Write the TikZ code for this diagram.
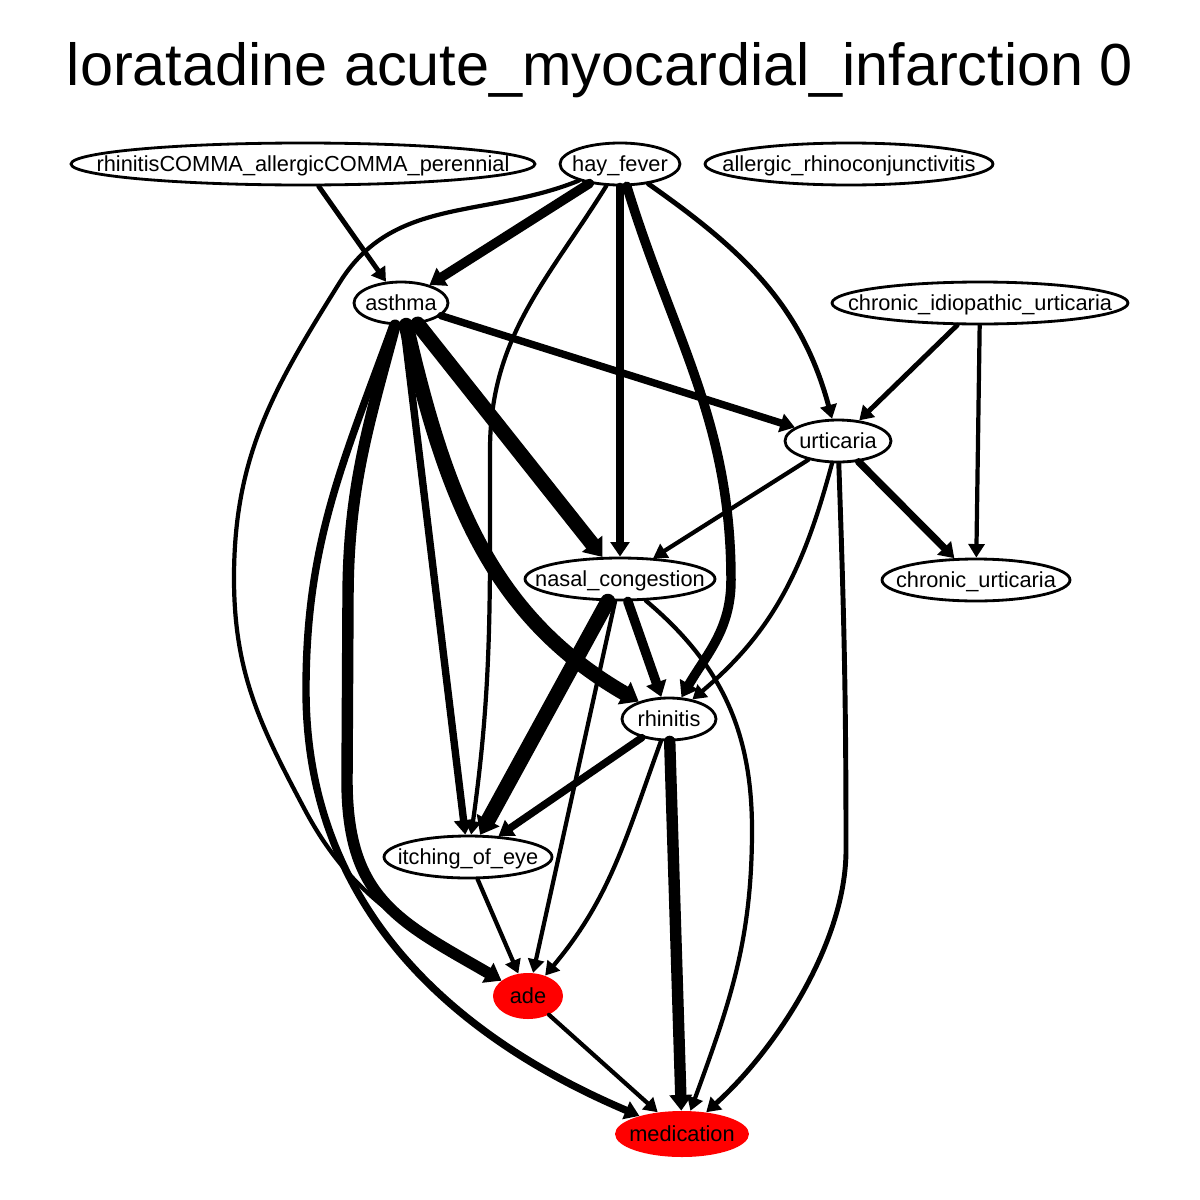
\documentclass[tikz,border=0pt]{standalone}
\usepackage{fontspec}
\setmainfont{Liberation Sans}
\usetikzlibrary{positioning, shapes.geometric, arrows.meta}
\tikzstyle{var}=[ellipse, draw=black, line width=1.6pt, inner xsep=-5cm, inner ysep=0pt, minimum height=0.84cm, text height=9.5pt, text depth=1pt, font=\fontsize{12.4}{14}\selectfont]
\tikzstyle{outc}=[ellipse, fill=red, inner xsep=-5cm, inner ysep=0pt, minimum height=0.92cm, text height=9.5pt, text depth=1pt, font=\fontsize{12.4}{14}\selectfont]
\tikzstyle{link}=[-{Triangle[length=7pt 0.3, width=7pt 0.85]}, line cap=round]
\tikzstyle{w1}=[link, line width=2.4pt]
\tikzstyle{w2}=[link, line width=2.8pt]
\tikzstyle{w3}=[link, line width=4.2pt]
\tikzstyle{w4}=[link, line width=5.4pt]
\tikzstyle{w5}=[link, line width=6.5pt]
\tikzstyle{w6}=[link, line width=8.5pt]

\begin{document}
\begin{tikzpicture}[x=0.02cm, y=-0.02cm]
            %causal graph for the drug/outcome pair, weights as line widths
            \useasboundingbox (0,0) rectangle (1200,1200);
            \node[anchor=base, font=\fontsize{33.8}{40}\selectfont](title) at (600,85){loratadine acute\_myocardial\_infarction 0};
            \node[var, minimum width=9.28cm](perennial) at (303,164){rhinitisCOMMA\_allergicCOMMA\_perennial};
            \node[var, minimum width=2.4cm](hayfever) at (620,164){hay\_fever};
            \node[var, minimum width=5.76cm](allergic) at (849,164){allergic\_rhinoconjunctivitis};
            \node[var, minimum width=1.88cm](asthma) at (401,303){asthma};
            \node[var, minimum width=5.92cm](ciu) at (980,303){chronic\_idiopathic\_urticaria};
            \node[var, minimum width=2.12cm](urticaria) at (838,441){urticaria};
            \node[var, minimum width=3.8cm](nasal) at (620,579){nasal\_congestion};
            \node[var, minimum width=3.76cm](churt) at (976,580){chronic\_urticaria};
            \node[var, minimum width=1.88cm](rhinitis) at (669,719){rhinitis};
            \node[var, minimum width=3.36cm](itching) at (468,857){itching\_of\_eye};
            \node[outc, minimum width=1.4cm](ade) at (528,996){ade};
            \node[outc, minimum width=2.68cm](med) at (682,1134){medication};

            \foreach \a/\b/\w in {perennial/asthma/w2, hayfever/asthma/w4, hayfever/nasal/w3,
                asthma/nasal/w6, asthma/urticaria/w3, asthma/itching/w3, ciu/urticaria/w2,
                ciu/churt/w1, urticaria/nasal/w1, urticaria/churt/w3, nasal/itching/w6,
                nasal/rhinitis/w4, nasal/ade/w1, rhinitis/itching/w3, rhinitis/med/w5,
                itching/ade/w1, ade/med/w1}{
                \draw[\w] (\a) -- (\b);
            }

            \draw[w1] (hayfever) to[out=202, in=58] (340,282) to[out=238, in=90] (234,578)
                to[out=270, in=118] (305,810) to[out=298, in=150] (ade);
            \draw[w1] (hayfever) to[out=238, in=90] (490,450) to[out=270, in=82] (itching);
            \draw[w4] (hayfever) to[out=287, in=90] (731,580) to[out=270, in=60] (rhinitis);
            \draw[w2] (hayfever) to[out=-35, in=105] (urticaria);
            \draw[w5] (asthma) to[out=255, in=90] (348,600) -- (347,780) to[out=270, in=150, looseness=1.2] (ade);
            \draw[w3] (asthma) to[out=250, in=90] (306,690) to[out=270, in=157] (med);
            \draw[w6] (asthma) to[out=283, in=150] (rhinitis);
            \draw[w1] (urticaria) to[out=255, in=40] (rhinitis);
            \draw[w2] (urticaria) to[out=272, in=90] (846,850) to[out=270, in=42, looseness=0.8] (med);
            \draw[w1] (nasal) to[out=-40, in=90] (752,830) to[out=270, in=70] (med);
            \draw[w1] (rhinitis) to[out=250, in=50] (ade);

        \end{tikzpicture}
\end{document}
